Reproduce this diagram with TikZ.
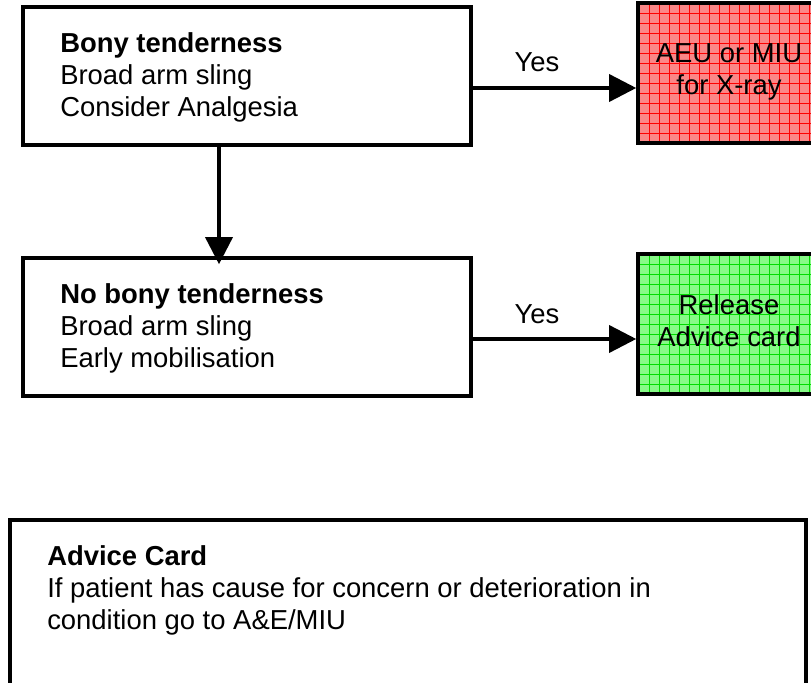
\documentclass[tikz,border=0pt]{standalone}
\usepackage{fontspec}
\setmainfont{Liberation Sans}
\usetikzlibrary{arrows.meta}
\definecolor{xraypink}{RGB}{250,135,135}
\definecolor{releasegreen}{RGB}{135,250,135}
\definecolor{gridgreen}{RGB}{0,220,0}
\begin{document}
\begin{tikzpicture}[x=0.025cm,y=-0.025cm]
        %======definicao dos blocos==========%

            \tikzstyle{caixa}=[rectangle,draw,line width=2.5pt,minimum width=448*0.025cm,minimum height=138*0.025cm,inner sep=0pt]
            \tikzstyle{texto}=[anchor=north west,inner sep=0pt,align=left,font=\fontsize{19.5}{22.8}\selectfont]
            \tikzstyle{textoc}=[anchor=north,inner sep=0pt,align=center,font=\fontsize{19.5}{22.8}\selectfont]
            \tikzstyle{edge}=[-{Triangle[length=0.68cm,width=0.68cm]},line width=2.4pt]
            \tikzstyle{grade}=[rectangle,draw,line width=2.5pt,minimum width=182*0.025cm,minimum height=140*0.025cm,inner sep=0pt]

        %====================%%=============%

            \useasboundingbox (0,0) rectangle (811,683);

            \node[caixa](A) at (247,76) {};
            \node[caixa](B) at (247,327) {};
            \node[grade,fill=xraypink,path picture={\draw[red,line width=0.5pt,step=10*0.025cm]
                (path picture bounding box.south west) grid (path picture bounding box.north east);}](C) at (729,73) {};
            \node[grade,fill=releasegreen,path picture={\draw[gridgreen,line width=0.5pt,step=10*0.025cm]
                (path picture bounding box.south west) grid (path picture bounding box.north east);}](D) at (729,324) {};
            \node[rectangle,draw,line width=2.5pt,minimum width=796*0.025cm,minimum height=200*0.025cm](E) at (408,620) {};

            \node[texto](At) at (60,32.3) {\textbf{Bony tenderness}\\Broad arm sling\\Consider Analgesia};
            \node[texto](Bt) at (60,283.3) {\textbf{No bony tenderness}\\Broad arm sling\\Early mobilisation};
            \node[textoc](Ct) at (729,43.3) {AEU or MIU\\for X-ray};
            \node[textoc](Dt) at (729,294.3) {Release\\Advice card};
            \node[texto](Et) at (47,545.3) {\textbf{Advice Card}\\If patient has cause for concern or deterioration in\\condition go to A\&E/MIU};

            \node[anchor=base,inner sep=0pt,font=\fontsize{19.5}{22.8}\selectfont](S1) at (537,72) {Yes};
            \node[anchor=base,inner sep=0pt,font=\fontsize{19.5}{22.8}\selectfont](S2) at (537,323) {Yes};

            \draw[edge](A.east |- 0,88) -- (C.west |- 0,88);
            \draw[edge](B.east |- 0,339) -- (D.west |- 0,339);
            \draw[edge,shorten >=-0.2cm](A.south -| 219,0) -- (B.north -| 219,0);
        \end{tikzpicture}
\end{document}
